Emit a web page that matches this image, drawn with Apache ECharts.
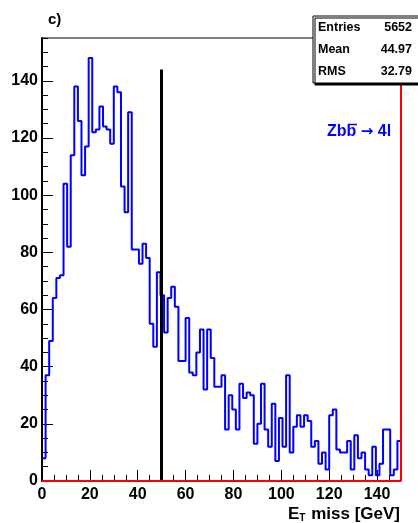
<!DOCTYPE html>
<html><head><meta charset="utf-8">
<script src="https://cdn.jsdelivr.net/npm/echarts@6/dist/echarts.min.js"></script>
<style>html,body{margin:0;padding:0;background:#fff}#c{width:418px;height:523px}</style>
</head><body><div id="c"></div><script>
// Histogram binning
const xMin = 0, xMax = 150, nBins = 100;
// Bin contents (events per 1.5 GeV bin)
const counts = [
  8, 37, 49, 64, 71, 72, 104, 82, 114, 138,
  126, 107, 117, 148, 122, 123, 131, 124, 123, 118,
  138, 136, 103, 94, 129, 81, 81, 76, 83, 78,
  55, 47, 73, 65, 52, 64, 68, 61, 42, 42,
  57, 38, 37, 45, 53, 32, 53, 43, 33, 33,
  37, 18, 30, 25, 18, 34, 29, 31, 30, 13,
  20, 34, 18, 12, 27, 7, 22, 12, 37, 10,
  19, 23, 19, 23, 21, 12, 14, 6, 10, 4,
  23, 25, 11, 10, 10, 14, 4, 16, 8, 10,
  4, 2, 12, 2, 6, 18, 18, 2, 4, 14
];
const xTicks = [0, 20, 40, 60, 80, 100, 120, 140];
const yTicks = [0, 20, 40, 60, 80, 100, 120, 140];
const yMax = 155;
const cutValue = 50, cutTop = 144;
const statsLabels = ['Entries', 'Mean', 'RMS'];
const statsValues = ['5652', '44.97', '32.79'];
const panelLabel = 'c)';

const binW = (xMax - xMin) / nBins;
const stepData = counts.map((c, i) => [xMin + i * binW, c]);
stepData.push([xMax, counts[counts.length - 1]]);

const FONT = 'Liberation Sans, Arial, Helvetica, sans-serif';
const chart = echarts.init(document.getElementById('c'), null, {renderer: 'canvas'});

const statsGraphics = [];
statsLabels.forEach((l, i) => {
  statsGraphics.push({type: 'text', left: 318, top: 21 + i * 22, style: {text: l, font: 'bold 12.5px ' + FONT, fill: '#000'}, z: 101});
  statsGraphics.push({type: 'text', right: 6, top: 21 + i * 22, style: {text: statsValues[i], font: 'bold 12.5px ' + FONT, fill: '#000', textAlign: 'right'}, z: 101});
});

chart.setOption({
  animation: false,
  grid: {left: 42, right: 17, top: 38, bottom: 42, show: true, borderColor: '#000', borderWidth: 1, backgroundColor: '#fff'},
  xAxis: [
    {type: 'value', min: xMin, max: xMax, interval: 20, position: 'bottom',
     axisLine: {show: true, onZero: false, lineStyle: {color: '#000', width: 1}},
     axisTick: {show: true, inside: true, length: 11, lineStyle: {color: '#000', width: 1}},
     axisLabel: {show: true, margin: 6, color: '#000', fontFamily: FONT, fontWeight: 'bold', fontSize: 16, showMaxLabel: false,
       formatter: v => xTicks.includes(v) ? String(v) : ''},
     splitLine: {show: false}},
    {type: 'value', min: xMin, max: xMax, interval: 5, position: 'bottom',
     axisLine: {show: false}, axisTick: {show: true, inside: true, length: 6, lineStyle: {color: '#000', width: 1}},
     axisLabel: {show: false}, splitLine: {show: false}}
  ],
  yAxis: [
    {type: 'value', min: 0, max: yMax, interval: 20, position: 'left',
     axisLine: {show: true, onZero: false, lineStyle: {color: '#000', width: 2}},
     axisTick: {show: true, inside: true, length: 11, lineStyle: {color: '#000', width: 1}},
     axisLabel: {show: true, margin: 4, color: '#000', fontFamily: FONT, fontWeight: 'bold', fontSize: 16, showMaxLabel: false,
       formatter: v => yTicks.includes(v) ? String(v) : ''},
     splitLine: {show: false}},
    {type: 'value', min: 0, max: yMax, interval: 5, position: 'left',
     axisLine: {show: false}, axisTick: {show: true, inside: true, length: 6, lineStyle: {color: '#000', width: 1}},
     axisLabel: {show: false}, splitLine: {show: false}}
  ],
  series: [
    {type: 'line', step: 'end', data: stepData, showSymbol: false, symbol: 'none',
     lineStyle: {color: '#0000ff', width: 2}, z: 3,
     markLine: {silent: true, symbol: 'none', label: {show: false},
       data: [
         [{coord: [cutValue, 0], lineStyle: {color: '#000', width: 3, type: 'solid'}}, {coord: [cutValue, cutTop]}],
         [{coord: [xMin, 0], lineStyle: {color: '#ff0000', width: 2, type: 'solid'}}, {coord: [xMax, 0]}],
         [{coord: [xMax, 0], lineStyle: {color: '#ff0000', width: 2, type: 'solid'}}, {coord: [xMax, yMax]}]
       ]}}
  ],
  graphic: [
    {type: 'text', left: 48, top: 12, style: {text: panelLabel, font: 'bold 15px ' + FONT, fill: '#000'}},
    {type: 'rect', shape: {x: 313, y: 16, width: 120, height: 67}, style: {fill: '#fff', stroke: '#000', lineWidth: 1, shadowColor: '#000', shadowOffsetX: 2, shadowOffsetY: 2, shadowBlur: 0}, z: 100},
    ...statsGraphics,
    {type: 'group', left: 327, top: 122, children: [
      {type: 'text', style: {
        rich: {a: {font: 'bold 16px ' + FONT, fill: '#0000ff'}, r: {font: 'bold 15px DejaVu Sans', fill: '#0000ff'}},
        text: '{a|Zbb }{r|\u2192}{a| 4l}'}},
      {type: 'line', shape: {x1: 21, y1: 0.5, x2: 30, y2: 0.5}, style: {stroke: '#0000ff', lineWidth: 1.5}}
    ]},
    {type: 'text', right: 18, top: 506, style: {
      rich: {a: {font: 'bold 17px ' + FONT, fill: '#000'}, s: {font: 'bold 10px ' + FONT, fill: '#000', padding: [8, 1, 0, 0]}},
      text: '{a|E}{s|T}{a| miss [GeV]}'}}
  ]
});
</script></body></html>
